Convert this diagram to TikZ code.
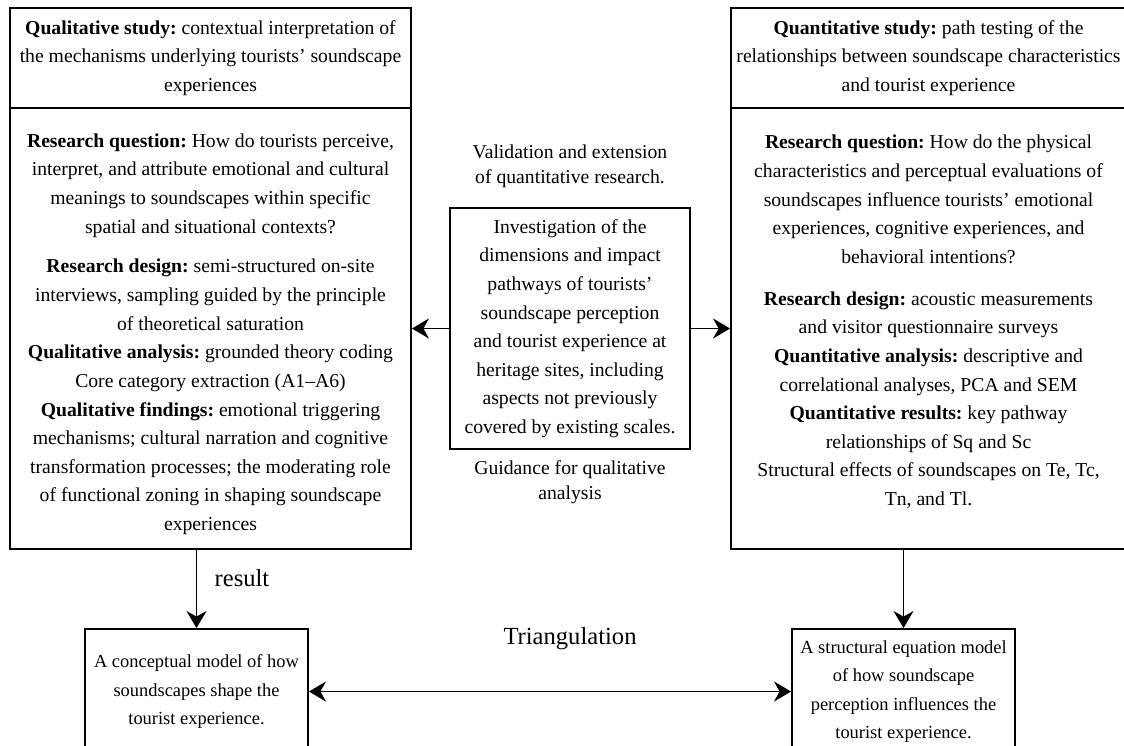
\documentclass[tikz,border=0pt]{standalone}
\usepackage{fontspec}
\setmainfont{Liberation Serif}
\usetikzlibrary{arrows.meta,positioning}
\frenchspacing

\begin{document}
\begin{tikzpicture}[x=0.02cm,y=-0.02cm,
  every node/.style={align=center},
  box/.style={draw,line width=1.1pt,inner sep=0pt},
  txt/.style={font=\fontsize{11.2}{16.3}\selectfont,inner sep=0pt},
  small/.style={font=\fontsize{10.5}{16.3}\selectfont},
  lbl/.style={font=\fontsize{11.2}{14.2}\selectfont,inner sep=0pt},
  big/.style={font=\fontsize{14}{17}\selectfont,inner sep=0pt},
  e/.style={-{Stealth[length=3.4mm,width=4mm]},line width=1.1pt},
  ee/.style={{Stealth[length=3.4mm,width=4mm]}-{Stealth[length=3.4mm,width=4mm]},line width=1.1pt}]

\useasboundingbox (0,0) rectangle (1124,745);
\clip (0,0) rectangle (1124,745);

% --- qualitative study (left) ---
\node[box,txt,minimum width=8.02cm,minimum height=2cm] (qlhead) at (210.5,58)
  {\textbf{Qualitative study:} contextual interpretation of\\
   the mechanisms underlying tourists’ soundscape\\
   experiences};
\node[box,minimum width=8.02cm,minimum height=8.82cm] (qlbody) at (210.5,328.5) {};
\node[txt] (qlrq) at (210.5,185.5)
  {\textbf{Research question:} How do tourists perceive,\\
   interpret, and attribute emotional and cultural\\
   meanings to soundscapes within specific\\
   spatial and situational contexts?};
\node[txt] (qlmeth) at (210.5,397)
  {\textbf{Research design:} semi-structured on-site\\
   interviews, sampling guided by the principle\\
   of theoretical saturation\\
   \textbf{Qualitative analysis:} grounded theory coding\\
   Core category extraction (A1--A6)\\
   \textbf{Qualitative findings:} emotional triggering\\
   mechanisms; cultural narration and cognitive\\
   transformation processes; the moderating role\\
   of functional zoning in shaping soundscape\\
   experiences};

% --- quantitative study (right) ---
\node[box,txt,minimum width=7.9cm,minimum height=2cm] (qnhead) at (928.5,58)
  {\textbf{Quantitative study:} path testing of the\\
   relationships between soundscape characteristics\\
   and tourist experience};
\node[box,minimum width=7.9cm,minimum height=8.82cm] (qnbody) at (928.5,328.5) {};
\node[txt] (qnrq) at (928.5,199.5)
  {\textbf{Research question:} How do the physical\\
   characteristics and perceptual evaluations of\\
   soundscapes influence tourists’ emotional\\
   experiences, cognitive experiences, and\\
   behavioral intentions?};
\node[txt] (qnmeth) at (928.5,400)
  {\textbf{Research design:} acoustic measurements\\
   and visitor questionnaire surveys\\
   \textbf{Quantitative analysis:} descriptive and\\
   correlational analyses, PCA and SEM\\
   \textbf{Quantitative results:} key pathway\\
   relationships of Sq and Sc\\
   Structural effects of soundscapes on Te, Tc,\\
   Tn, and Tl.};

% --- core question (middle) ---
\node[box,txt,minimum width=4.8cm,minimum height=4.82cm] (core) at (570,328.5)
  {Investigation of the\\dimensions and impact\\pathways of tourists’\\soundscape perception\\
   and tourist experience at\\heritage sites, including\\aspects not previously\\covered by existing scales.};
\node[lbl] (valid) at (570,166) {Validation and extension\\of quantitative research.};
\node[lbl] (guide) at (570,482) {Guidance for qualitative\\analysis};

% --- models (bottom) ---
\node[box,txt,small,minimum width=4.46cm,minimum height=2.5cm] (qlres) at (196.5,691.5)
  {A conceptual model of how\\soundscapes shape the\\tourist experience.};
\node[box,txt,small,minimum width=4.46cm,minimum height=2.5cm] (qnres) at (903.5,691.5)
  {A structural equation model\\of how soundscape\\perception influences the\\tourist experience.};
\node[big] (reslbl) at (242,578) {result};
\node[big] (trilbl) at (570,639) {Triangulation};

% edges
\draw[e] (core.west) -- (qlbody.east);
\draw[e] (core.east) -- (qnbody.west);
\draw[e] (qlbody.south -| qlres.north) -- (qlres.north);
\draw[e] (qnbody.south -| qnres.north) -- (qnres.north);
\draw[ee] (qlres.east) -- (qnres.west);
\end{tikzpicture}
\end{document}
